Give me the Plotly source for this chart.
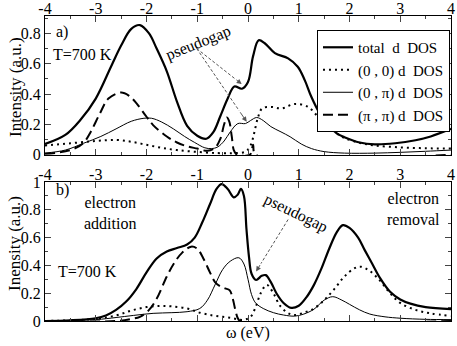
import plotly.graph_objects as go

# ---- data ----
# panel a)
a_tot_x = [-4.0, -3.6, -3.3, -3.0, -2.7, -2.5, -2.3, -2.13, -1.95, -1.8, -1.6, -1.4, -1.2, -1.0,
           -0.82, -0.68, -0.55, -0.4, -0.27, -0.12, 0.0, 0.1, 0.21, 0.33, 0.53, 0.79, 0.98, 1.12,
           1.25, 1.4, 1.58, 1.75, 1.9, 2.2, 2.5, 2.9, 3.3, 3.6, 4.0]
a_tot_y = [0.07, 0.13, 0.23, 0.37, 0.58, 0.72, 0.83, 0.855, 0.80, 0.70, 0.55, 0.35, 0.19, 0.125,
           0.105, 0.15, 0.25, 0.37, 0.45, 0.435, 0.48, 0.65, 0.755, 0.735, 0.67, 0.635, 0.58, 0.49,
           0.38, 0.28, 0.2, 0.14, 0.115, 0.08, 0.068, 0.075, 0.095, 0.12, 0.17]

a_00_x = [-4.0, -3.5, -3.0, -2.6, -2.3, -2.0, -1.7, -1.4, -1.0, -0.6, -0.3, -0.05, 0.05, 0.12,
          0.2, 0.28, 0.46, 0.66, 0.92, 1.18, 1.38, 1.58, 1.75, 1.9, 2.2, 2.5, 3.0, 3.5, 4.0]
a_00_y = [0.06, 0.075, 0.09, 0.097, 0.085, 0.065, 0.045, 0.03, 0.018, 0.01, 0.01, 0.02, 0.06, 0.14,
          0.25, 0.305, 0.315, 0.305, 0.334, 0.316, 0.25, 0.184, 0.14, 0.11, 0.078, 0.06, 0.048, 0.042, 0.04]

a_0p_x = [-4.0, -3.6, -3.24, -2.9, -2.6, -2.3, -2.05, -1.9, -1.7, -1.47, -1.25, -1.05, -0.85, -0.72,
          -0.6, -0.47, -0.35, -0.2, -0.05, 0.05, 0.17, 0.3, 0.45, 0.65, 0.83, 1.05, 1.25, 1.5, 1.9,
          2.5, 3.0, 3.5, 4.0]
a_0p_y = [0.01, 0.03, 0.075, 0.12, 0.17, 0.22, 0.24, 0.24, 0.215, 0.17, 0.12, 0.08, 0.045, 0.04,
          0.05, 0.09, 0.15, 0.205, 0.205, 0.225, 0.245, 0.225, 0.185, 0.15, 0.118, 0.07, 0.04, 0.02, 0.01,
          0.01, 0.015, 0.022, 0.03]

a_pp_x = [-4.0, -3.5, -3.25, -3.1, -2.92, -2.75, -2.5, -2.35, -2.2, -2.0, -1.87, -1.6, -1.4, -1.2,
          -1.0, -0.8, -0.65, -0.55, -0.47, -0.42, -0.37, -0.32, -0.28, -0.22, 0.04, 0.1, 0.15, 4.0]
a_pp_y = [0.005, 0.03, 0.075, 0.15, 0.27, 0.37, 0.41, 0.39, 0.34, 0.25, 0.195, 0.12, 0.08, 0.055,
          0.04, 0.025, 0.045, 0.1, 0.2, 0.245, 0.22, 0.12, 0.03, 0.0, 0.0, 0.065, 0.0, 0.0]

# panel b)
b_tot_x = [-4.0, -3.5, -3.0, -2.8, -2.6, -2.4, -2.2, -2.0, -1.8, -1.6, -1.4, -1.2, -1.05, -0.9,
           -0.75, -0.62, -0.52, -0.4, -0.28, -0.2, -0.14, -0.08, -0.03, 0.02, 0.07, 0.16, 0.27,
           0.35, 0.45, 0.56, 0.7, 0.85, 1.0, 1.15, 1.3, 1.45, 1.6, 1.75, 1.87, 2.0, 2.17, 2.3,
           2.45, 2.6, 2.8, 3.0, 3.2, 3.5, 4.0]
b_tot_y = [0.0, 0.005, 0.02, 0.04, 0.08, 0.14, 0.23, 0.35, 0.45, 0.5, 0.525, 0.55, 0.6, 0.71,
           0.84, 0.95, 0.985, 0.95, 0.89, 0.91, 0.95, 0.9, 0.66, 0.46, 0.34, 0.295, 0.325,
           0.33, 0.28, 0.2, 0.13, 0.095, 0.11, 0.17, 0.26, 0.38, 0.52, 0.64, 0.69, 0.67, 0.6, 0.51,
           0.41, 0.31, 0.21, 0.155, 0.125, 0.1, 0.085]

b_00_x = [-4.0, -3.0, -2.6, -2.3, -2.0, -1.73, -1.5, -1.2, -0.95, -0.7, -0.5, -0.3, -0.1, 0.05,
          0.15, 0.25, 0.37, 0.5, 0.63, 0.8, 0.92, 1.1, 1.3, 1.5, 1.7, 1.9, 2.1, 2.23, 2.4, 2.6,
          2.8, 3.0, 3.3, 3.6, 4.0]
b_00_y = [0.0, 0.015, 0.04, 0.075, 0.1, 0.108, 0.105, 0.09, 0.06, 0.04, 0.03, 0.02, 0.008, 0.03,
          0.1, 0.2, 0.26, 0.2, 0.11, 0.055, 0.043, 0.06, 0.09, 0.15, 0.23, 0.32, 0.38, 0.39, 0.36, 0.29,
          0.2, 0.13, 0.08, 0.055, 0.036]

b_0p_x = [-4.0, -3.0, -2.6, -2.26, -1.87, -1.5, -1.2, -0.95, -0.8, -0.65, -0.5, -0.35, -0.18,
          -0.08, 0.0, 0.07, 0.15, 0.3, 0.5, 0.7, 0.92, 1.1, 1.3, 1.5, 1.67, 1.85, 2.0, 2.2, 2.4,
          2.7, 3.0, 3.5, 4.0]
b_0p_y = [0.0, 0.01, 0.025, 0.04, 0.055, 0.06, 0.067, 0.09, 0.15, 0.26, 0.37, 0.43, 0.455,
          0.41, 0.3, 0.19, 0.13, 0.09, 0.06, 0.043, 0.035, 0.05, 0.085, 0.15, 0.175, 0.15, 0.12, 0.08, 0.05,
          0.03, 0.02, 0.012, 0.01]

b_pp_x = [-4.0, -2.6, -2.3, -2.13, -1.95, -1.8, -1.6, -1.45, -1.3, -1.12, -1.0, -0.88, -0.75,
          -0.65, -0.55, -0.45, -0.36, -0.3, -0.25, -0.2, -0.15, 4.0]
b_pp_y = [0.0, 0.0, 0.015, 0.03, 0.08, 0.16, 0.32, 0.42, 0.49, 0.535, 0.52, 0.45, 0.35,
          0.28, 0.25, 0.235, 0.22, 0.16, 0.08, 0.02, 0.0, 0.0]

names = ["total\u00a0\u00a0d\u00a0\u00a0DOS", "(0\u00a0,\u00a00)\u00a0d\u00a0\u00a0DOS",
         "(0\u00a0,\u00a0\u03c0)\u00a0d\u00a0\u00a0DOS", "(\u03c0\u00a0,\u00a0\u03c0)\u00a0d\u00a0\u00a0DOS"]
xticks = [-4, -3, -2, -1, 0, 1, 2, 3, 4]
xlabels = ["-4", "-3", "-2", "-1", "0", "1", "2", "3", "4"]

FONT = "Liberation Serif, Times New Roman, serif"
styles = [dict(color="black", width=2.2),
          dict(color="black", width=2, dash="2px,4px"),
          dict(color="black", width=1),
          dict(color="black", width=2, dash="10px,5px")]

fig = go.Figure()

panel_a = [(a_tot_x, a_tot_y), (a_00_x, a_00_y), (a_0p_x, a_0p_y), (a_pp_x, a_pp_y)]
panel_b = [(b_tot_x, b_tot_y), (b_00_x, b_00_y), (b_0p_x, b_0p_y), (b_pp_x, b_pp_y)]

for i, (xs, ys) in enumerate(panel_a):
    fig.add_trace(go.Scatter(x=xs, y=ys, mode="lines", name=names[i], line=styles[i],
                             line_shape="spline", xaxis="x", yaxis="y"))
for i, (xs, ys) in enumerate(panel_b):
    fig.add_trace(go.Scatter(x=xs, y=ys, mode="lines", name=names[i], line=styles[i],
                             line_shape="spline", showlegend=False, xaxis="x2", yaxis="y2"))

xax = dict(range=[-4, 4], side="top", tickmode="array", tickvals=xticks, ticktext=xlabels,
           ticks="inside", ticklen=6, mirror="ticks", showline=True, linecolor="black",
           linewidth=1, showgrid=False, zeroline=False, automargin=False,
           ticklabeloverflow="allow", ticklabelstandoff=-5,
           tickfont=dict(family=FONT, size=16, color="black"),
           minor=dict(tickmode="linear", tick0=-4, dtick=0.5, ticks="inside", ticklen=3))

yax = dict(ticks="inside", ticklen=6, mirror="ticks", showline=True, linecolor="black",
           linewidth=1, showgrid=False, zeroline=False, tickmode="array", automargin=False,
           tickfont=dict(family=FONT, size=16, color="black"),
           minor=dict(tickmode="linear", tick0=0, dtick=0.1, ticks="inside", ticklen=3))

fig.update_layout(
    template="none",
    width=457, height=346,
    margin=dict(l=45, r=6, t=16, b=25),
    plot_bgcolor="white", paper_bgcolor="white",
    font=dict(family=FONT, size=16, color="black"),
    xaxis=dict(xax, anchor="y"),
    yaxis=dict(yax, domain=[0.544, 1], range=[-0.003, 0.915], anchor="x",
               tickvals=[0, 0.2, 0.4, 0.6, 0.8], ticktext=["0", "0.2", "0.4", "0.6", "0.8"],
               zeroline=True, zerolinecolor="#999999", zerolinewidth=2),
    xaxis2=dict(xax, anchor="y2"),
    yaxis2=dict(yax, domain=[0, 0.4557], range=[0, 1], anchor="x2",
                tickvals=[0, 0.2, 0.4, 0.6, 0.8, 1], ticktext=["0", "0.2", "0.4", "0.6", "0.8", "1"]),
    legend=dict(x=0.9975, xanchor="right", y=0.954, yanchor="top", bgcolor="white",
                bordercolor="black", borderwidth=1, tracegroupgap=0,
                font=dict(family=FONT, size=15, color="black")),
    showlegend=True,
)

# text labels
def note(text, x, y, xref="x", yref="y", angle=0, size=16):
    fig.add_annotation(text=text, x=x, y=y, xref=xref, yref=yref, showarrow=False,
                       xanchor="center", yanchor="middle", textangle=angle,
                       font=dict(family=FONT, size=size, color="black"))

note("a)", -3.66, 0.81)
note("T=700 K", -3.26, 0.664)
note("pseudogap", -0.98, 0.74, angle=-22)
note("b)", -3.66, 0.942, "x2", "y2")
note("electron<br>addition", -2.71, 0.78, "x2", "y2")
note("T=700 K", -3.17, 0.355, "x2", "y2")
note("electron<br>removal", 3.26, 0.808, "x2", "y2")
note("pseudogap", 0.94, 0.78, "x2", "y2", angle=26)
note("Intensity (a.u.)", -0.074, 0.767, "paper", "paper", angle=-90, size=17)
note("Inensity (a.u.)", -0.074, 0.256, "paper", "paper", angle=-90, size=17)
note("\u03c9 (eV)", 0.5, -0.039, "paper", "paper", size=16)

# dashed arrows
arrows = [("x", "y", -1.01, 0.70, -0.125, 0.466),
          ("x", "y", -1.01, 0.70, -0.026, 0.217),
          ("x2", "y2", 0.79, 0.73, 0.16, 0.357)]
for xr, yr, x0, y0, x1, y1 in arrows:
    fig.add_shape(type="line", xref=xr, yref=yr, x0=x0, y0=y0,
                  x1=x0 + 0.85 * (x1 - x0), y1=y0 + 0.85 * (y1 - y0),
                  line=dict(color="#555555", width=1, dash="3px,2px"))
    fig.add_annotation(x=x1, y=y1, xref=xr, yref=yr, axref=xr, ayref=yr,
                       ax=x0 + 0.85 * (x1 - x0), ay=y0 + 0.85 * (y1 - y0), text="",
                       showarrow=True, arrowhead=2, arrowsize=1, arrowwidth=1,
                       arrowcolor="#555555")

# the page body has a default 8px margin; drop it so the figure sits at the corner
fig.write_html("out.html", config={"displayModeBar": False},
               post_script="document.body.style.margin='0';")
